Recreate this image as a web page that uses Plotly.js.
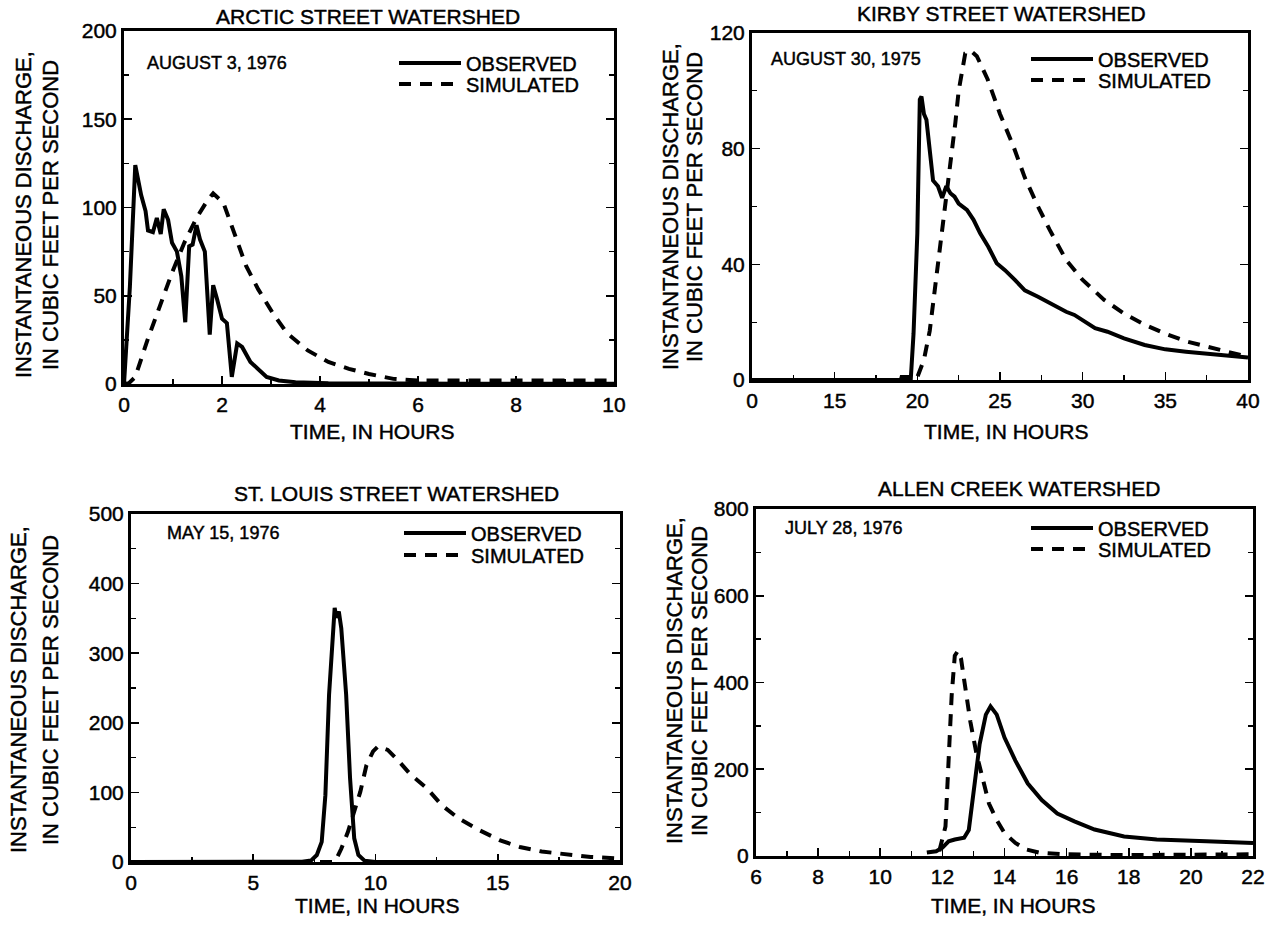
<!DOCTYPE html>
<html>
<head>
<meta charset="utf-8">
<script src="https://cdn.plot.ly/plotly-3.0.1.min.js"></script>
<style>
html,body{margin:0;padding:0;background:#fff}
#chart{width:1272px;height:928px}
#chart svg text{stroke:#000;stroke-width:0.45px}
</style>
</head>
<body>
<div id="chart"></div>
<script>
// ---------- DATA ----------
// Arctic Street watershed, August 3, 1976
const arcticObsT = [0, 0.05, 0.12, 0.23, 0.35, 0.44, 0.49, 0.59, 0.67, 0.75, 0.81, 0.9, 0.98, 1.08, 1.17, 1.25, 1.33, 1.4, 1.48, 1.55, 1.65, 1.75, 1.82, 1.9, 2.0, 2.1, 2.2, 2.31, 2.41, 2.58, 2.74, 2.91, 3.16, 3.5, 4.17, 5, 6, 7, 8, 9, 10];
const arcticObsQ = [0, 22, 55, 124, 107, 98, 87, 86, 94, 85, 99, 93, 80, 75, 61, 35, 78, 79, 90, 82, 75, 28, 56, 48, 37, 34.5, 4, 23, 21, 12.5, 8.6, 4, 2, 1, 0.4, 0.2, 0.1, 0.1, 0.1, 0.1, 0.1];
const arcticSimT = [0, 0.1, 0.23, 0.48, 0.73, 0.98, 1.23, 1.48, 1.69, 1.82, 2.03, 2.24, 2.49, 2.74, 3.04, 3.33, 3.75, 4.17, 4.59, 5.0, 5.5, 6.0, 7, 8, 9, 10];
const arcticSimQ = [0, 0.5, 4, 25, 44, 63, 80, 94, 103.5, 108, 102.5, 86, 67, 53.6, 40, 28.7, 19, 12.5, 8.6, 5.7, 2.9, 2, 2, 2, 2, 2];

// Kirby Street watershed, August 30, 1975 (axis break: first tick "0" stands at 10 h)
const kirbyObsT = [10, 19.0, 19.05, 19.5, 19.6, 19.77, 20.0, 20.15, 20.25, 20.4, 20.55, 20.75, 20.95, 21.25, 21.5, 21.75, 22.0, 22.25, 22.5, 23.0, 23.4, 23.8, 24.3, 24.8, 25.3, 25.9, 26.5, 27.3, 28.0, 29.0, 29.5, 30.0, 30.75, 31.5, 32.5, 33.75, 35, 36.25, 37.5, 38.75, 40];
const kirbyObsQ = [0, 0, 1, 1, 0, 16, 50.7, 97, 98, 92, 90, 79.6, 69, 67, 63, 67, 64.6, 63.4, 61, 58.8, 55.4, 50.7, 46, 40.4, 38, 34.6, 31, 28.8, 26.5, 23.6, 22.5, 20.8, 17.9, 16.7, 14.4, 12.1, 10.6, 9.8, 9.2, 8.6, 7.8];
const kirbySimT = [10, 19.9, 20.0, 20.4, 20.75, 21.1, 21.5, 21.9, 22.3, 22.5, 22.9, 23.2, 23.6, 24.25, 25.0, 25.8, 26.5, 27.3, 28.0, 29.0, 30, 31.3, 32.5, 33.8, 35, 36.3, 37.5, 38.8, 40];
const kirbySimQ = [0, 0, 1, 7, 17, 33, 53, 70, 89, 100, 113, 114, 112, 104, 92, 81, 70, 60, 52, 41.5, 34.6, 27.7, 23, 19, 16, 13.3, 11.5, 9.8, 8];

// St. Louis Street watershed, May 15, 1976
const stlouisObsT = [0, 5, 7.0, 7.36, 7.6, 7.8, 7.95, 8.1, 8.28, 8.33, 8.4, 8.5, 8.6, 8.8, 8.96, 9.13, 9.3, 9.55, 10, 15, 20];
const stlouisObsQ = [0, 0, 0.5, 2, 10, 29, 96, 240, 356, 365, 351, 360, 336, 240, 120, 34, 10, 2, 0, 0, 0];
const stlouisSimT = [0, 8.3, 8.37, 8.6, 8.87, 9.13, 9.38, 9.63, 9.9, 10.1, 10.5, 10.9, 11.4, 12.1, 12.7, 13.4, 14.25, 15.1, 15.9, 16.8, 17.8, 18.8, 20];
const stlouisSimQ = [0, 0, 2, 19, 43, 72, 101, 139, 159, 166, 161, 147, 127, 106, 82, 62.5, 45.7, 31, 21.6, 15, 10.6, 7.2, 5];

// Allen Creek watershed, July 28, 1976
const allenObsT = [11.5, 11.8, 12.0, 12.2, 12.4, 12.7, 12.85, 13.0, 13.2, 13.4, 13.55, 13.75, 14.0, 14.35, 14.75, 15.2, 15.7, 16.25, 16.9, 17.85, 18.9, 20.5, 22];
const allenObsQ = [8, 11, 19, 34, 38, 42, 60, 144, 258, 326, 345, 326, 273, 220, 167, 129, 98, 80, 61, 45, 38, 34, 30];
const allenSimT = [11.9, 12.1, 12.2, 12.3, 12.4, 12.5, 12.6, 12.75, 12.9, 13.1, 13.3, 13.5, 13.75, 14.0, 14.35, 14.7, 15.1, 15.9, 17.9, 20, 22];
const allenSimQ = [11, 68, 220, 371, 462, 473, 455, 379, 310, 235, 174, 121, 83, 53, 30, 15, 8, 4, 2, 3, 4];

const panelTitles = ['ARCTIC STREET WATERSHED', 'KIRBY STREET WATERSHED', 'ST. LOUIS STREET WATERSHED', 'ALLEN CREEK WATERSHED'];
const eventDates = ['AUGUST 3, 1976', 'AUGUST 30, 1975', 'MAY 15, 1976', 'JULY 28, 1976'];
const seriesNames = ['OBSERVED', 'SIMULATED'];
const kirbyTickVals = [10, 15, 20, 25, 30, 35, 40];
const kirbyTickText = ['0', '15', '20', '25', '30', '35', '40'];

// ---------- LAYOUT ----------
const W = 1272, H = 928;
const FONT = 'Liberation Sans, Arial, Helvetica, sans-serif';
const px = v => v / W, py = v => 1 - v / H;

// plot frames in pixels: [left, right, top, bottom]
const frames = [[124, 614, 31, 384], [752, 1248, 33, 380], [131, 620, 514, 862], [756, 1253, 509, 856]];

const lineSolid = {color: '#000', width: 4};
const lineDash = {color: '#000', width: 4, dash: '12px,9px'};

const series = [
  [arcticObsT, arcticObsQ, arcticSimT, arcticSimQ],
  [kirbyObsT, kirbyObsQ, kirbySimT, kirbySimQ],
  [stlouisObsT, stlouisObsQ, stlouisSimT, stlouisSimQ],
  [allenObsT, allenObsQ, allenSimT, allenSimQ]
];

// one single-entry legend per series and panel
const legendKey = n => n === 1 ? 'legend' : 'legend' + n;

const traces = [];
series.forEach((s, i) => {
  const ax = i === 0 ? '' : String(i + 1);
  traces.push({x: s[0], y: s[1], type: 'scatter', mode: 'lines', name: seriesNames[0], line: lineSolid, xaxis: 'x' + ax, yaxis: 'y' + ax, legend: legendKey(2 * i + 1)});
  traces.push({x: s[2], y: s[3], type: 'scatter', mode: 'lines', name: seriesNames[1], line: lineDash, xaxis: 'x' + ax, yaxis: 'y' + ax, legend: legendKey(2 * i + 2)});
});

const axisBase = {
  showgrid: false, zeroline: false, showline: true, linecolor: '#000', linewidth: 3,
  ticks: 'inside', ticklen: 8, tickwidth: 1.6, tickcolor: '#000',
  tickfont: {family: FONT, size: 21, color: '#000'}, fixedrange: true
};

const xRanges = [[0, 10], [10, 40], [0, 20], [6, 22]];
const xDticks = [2, 5, 5, 2];
const xMinor = [1, 2.5, 2.5, 1];
const yRanges = [[0, 200], [0, 120], [0, 500], [0, 800]];
const yDticks = [50, 40, 100, 200];
const yMinor = [25, 20, 50, 100];

const layout = {
  width: W, height: H, margin: {l: 0, r: 0, t: 0, b: 0},
  paper_bgcolor: '#fff', plot_bgcolor: '#fff',
  font: {family: FONT, color: '#000'},
  annotations: [], showlegend: true
};

frames.forEach((f, i) => {
  const ax = i === 0 ? '' : String(i + 1);
  const xa = Object.assign({}, axisBase, {
    domain: [px(f[0]), px(f[1])], range: xRanges[i], anchor: 'y' + ax, mirror: true,
    dtick: xDticks[i], tick0: 0,
    minor: {ticks: 'inside', ticklen: 5, tickwidth: 1.3, tickcolor: '#000', dtick: xMinor[i], tick0: 0}
  });
  if (i === 1) {
    xa.tickmode = 'array'; xa.tickvals = kirbyTickVals; xa.ticktext = kirbyTickText;
    delete xa.dtick; delete xa.tick0;
    xa.minor = {ticks: 'inside', ticklen: 5, tickwidth: 1.3, tickcolor: '#000', tickvals: [12.5, 17.5, 22.5, 27.5, 32.5, 37.5]};
  }
  const ya = Object.assign({}, axisBase, {
    domain: [py(f[3]), py(f[2])], range: yRanges[i], anchor: 'x' + ax, mirror: 'allticks',
    dtick: yDticks[i], tick0: 0,
    minor: {ticks: 'inside', ticklen: 5, tickwidth: 1.3, tickcolor: '#000', dtick: yMinor[i], tick0: 0}
  });
  layout['xaxis' + ax] = xa;
  layout['yaxis' + ax] = ya;
});

// legend rows: [sample left px, row centre px] for OBSERVED and SIMULATED of each panel
const legendRows = [
  [402, 63], [402, 84],
  [1034, 59], [1034, 80],
  [407, 533], [407, 555],
  [1034, 528], [1034, 549]
];
legendRows.forEach((p, k) => {
  layout[legendKey(k + 1)] = {
    x: px(p[0] - 8), y: py(p[1]), xanchor: 'left', yanchor: 'middle',
    bgcolor: 'rgba(0,0,0,0)', borderwidth: 0, itemwidth: 62,
    font: {family: FONT, size: 20, color: '#000'}, tracegroupgap: 0,
    itemclick: false, itemdoubleclick: false
  };
});

function ann(text, x, y, size, opts) {
  layout.annotations.push(Object.assign({
    text: text, xref: 'paper', yref: 'paper', x: px(x), y: py(y), showarrow: false,
    xanchor: 'center', yanchor: 'middle', font: {family: FONT, size: size, color: '#000'}
  }, opts || {}));
}

// panel titles
const titlePos = [[368, 17], [1001, 14], [396, 493], [1019, 488]];
titlePos.forEach((p, i) => ann(panelTitles[i], p[0], p[1], 21));
// x titles
const xTitlePos = [[372, 432], [1006, 432], [377, 905], [1013, 905]];
xTitlePos.forEach(p => ann('TIME, IN HOURS', p[0], p[1], 21));
// y titles (two lines)
const yTitlePos = [[23, 50, 215], [671, 695, 207], [18, 50, 690], [674, 699, 681]];
yTitlePos.forEach(p => {
  ann('INSTANTANEOUS DISCHARGE,', p[0], p[2], 22, {textangle: -90});
  ann('IN CUBIC FEET PER SECOND', p[1], p[2], 22, {textangle: -90});
});
// dates
const datePos = [[145, 63], [769, 59], [165, 533], [783, 528]];
datePos.forEach((p, i) => ann(eventDates[i], p[0], p[1], 18, {xanchor: 'left'}));

Plotly.newPlot('chart', traces, layout, {staticPlot: true, displayModeBar: false});
</script>
</body>
</html>
